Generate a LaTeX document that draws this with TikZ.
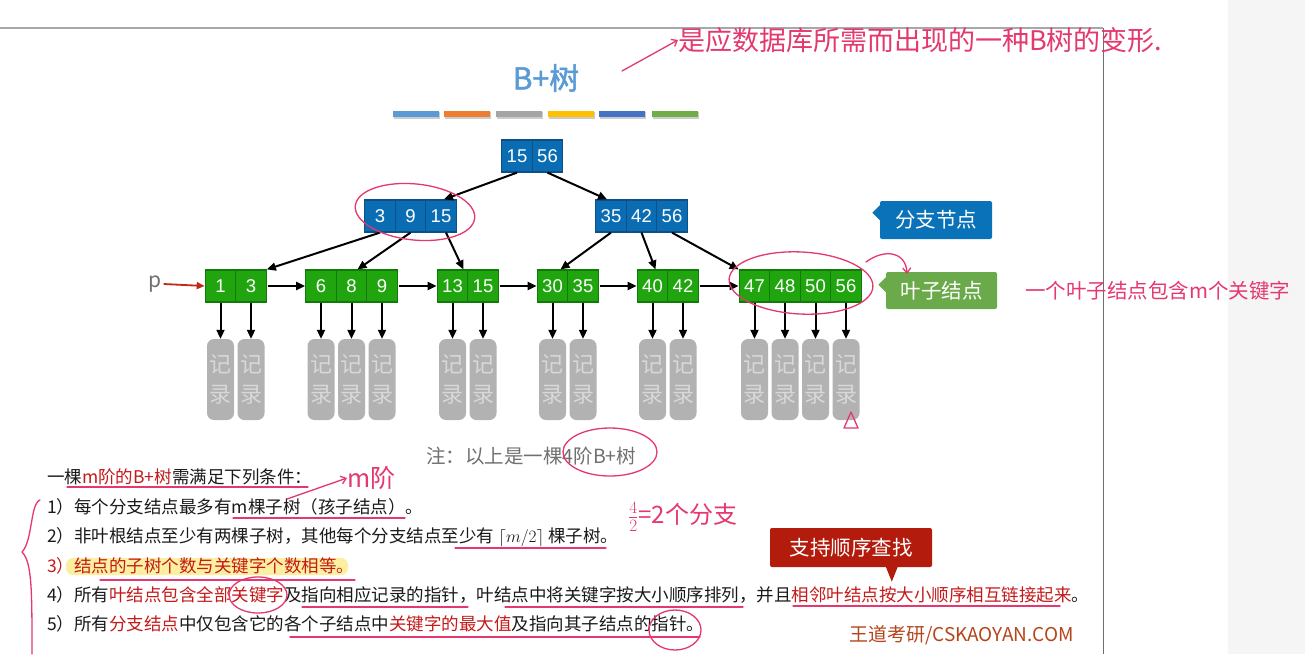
\documentclass[tikz,border=0pt]{standalone}
\usepackage{fontspec}
\setmainfont{Noto Sans CJK SC}
\newfontfamily\latf{Liberation Sans}
\newfontfamily\titlef{Noto Sans CJK SC}[FakeBold=1.6]
\usetikzlibrary{arrows.meta,shapes.geometric,calc}
\definecolor{bluec}{HTML}{0A6DB3}
\definecolor{bluedk}{HTML}{0D4F86}
\definecolor{greenc}{HTML}{20A50E}
\definecolor{greendk}{HTML}{117A0B}
\definecolor{recgray}{HTML}{B2B2B2}
\definecolor{rectext}{HTML}{D8D8D8}
\definecolor{cblue}{HTML}{0A72B8}
\definecolor{cgreen}{HTML}{6AAA4A}
\definecolor{cred}{HTML}{B31B0C}
\definecolor{titleblue}{HTML}{5B9BD5}
\definecolor{barA}{HTML}{5B9BD5}
\definecolor{barB}{HTML}{ED7D31}
\definecolor{barC}{HTML}{A5A5A5}
\definecolor{barD}{HTML}{FFC000}
\definecolor{barE}{HTML}{4472C4}
\definecolor{barF}{HTML}{70AD47}
\definecolor{txtred}{HTML}{C41A1A}
\definecolor{txtblack}{HTML}{1A1A1A}
\definecolor{notegray}{HTML}{707070}
\definecolor{wdbrown}{HTML}{B5461C}
\definecolor{hlyellow}{HTML}{FCEFA0}
\definecolor{pink}{HTML}{E4386E}
\definecolor{pred}{HTML}{C0281A}
\definecolor{panel}{HTML}{F5F5F5}
\newcommand\myfs[1]{\fontsize{#1}{#1}\selectfont}
\newcommand\rt[1]{\textcolor{txtred}{#1}}
\tikzset{
  bcell/.style={draw=bluedk, fill=bluec, line width=1.2pt, minimum width=30.5pt, minimum height=32pt, inner sep=0pt, text=white, font=\latf\myfs{18.5}},
  gcell/.style={draw=greendk, fill=greenc, line width=1.2pt, minimum width=30.5pt, minimum height=32pt, inner sep=0pt, text=white, font=\latf\myfs{18.5}},
  rec/.style={fill=recgray, rounded corners=7pt, minimum width=27pt, minimum height=81pt, inner sep=0pt, text=rectext, font=\fontsize{22}{30}\selectfont, align=center},
  arr/.style={-{Triangle[length=9pt,width=8pt]}, line width=2pt, black},
  txt/.style={anchor=west, inner sep=0pt, text=txtblack, font=\myfs{17.5}},
  callout/.style={rounded corners=2pt, text=white, font=\myfs{20.5}, inner sep=0pt},
  hw/.style={text=pink, inner sep=0pt},
  pen/.style={draw=pink, line width=1.3pt, line cap=round, line join=round},
  bar/.style={inner sep=0pt, minimum width=46pt, minimum height=6pt}
}
\begin{document}
\begin{tikzpicture}[x=1pt,y=-1pt]
\useasboundingbox (0,0) rectangle (1305,654);
\fill[white] (0,0) rectangle (1305,654);
% page frame
\fill[panel] (1228,0) rectangle (1305,654);
\draw[color={rgb,255:red,168;green,168;blue,168}, line width=1.5pt] (0,28) -- (1103,28);
\draw[color={rgb,255:red,110;green,110;blue,110}, line width=0.8pt] (1103,28) -- (1103,654);

% title
\node[text=titleblue, font=\titlef\myfs{30}, inner sep=0pt] (title) at (546,78) {B+树};
\foreach \c/\x in {barA/416,barB/466.5,barC/519,barD/570.5,barE/621.5,barF/674.5}{
  \fill[black!20] (\x-23+1,112) rectangle (\x+23+1,118.5);
  \node[bar, fill=\c] at (\x,114) {};
}

% root
\node[bcell] (r1) at (517,156) {15};
\node[bcell] (r2) at (547.5,156) {56};
% internal
\node[bcell] (L1) at (380,216) {3};
\node[bcell] (L2) at (410.5,216) {9};
\node[bcell] (L3) at (441,216) {15};
\node[bcell] (R1) at (611,216) {35};
\node[bcell] (R2) at (641.5,216) {42};
\node[bcell] (R3) at (672,216) {56};
% leaves
\node[gcell] (A1) at (220.5,286) {1};
\node[gcell] (A2) at (251,286) {3};
\node[gcell] (B1) at (321,286) {6};
\node[gcell] (B2) at (351.5,286) {8};
\node[gcell] (B3) at (382,286) {9};
\node[gcell] (C1) at (452.5,286) {13};
\node[gcell] (C2) at (483,286) {15};
\node[gcell] (D1) at (552.5,286) {30};
\node[gcell] (D2) at (583,286) {35};
\node[gcell] (E1) at (652.5,286) {40};
\node[gcell] (E2) at (683,286) {42};
\node[gcell] (F1) at (754.5,286) {47};
\node[gcell] (F2) at (785,286) {48};
\node[gcell] (F3) at (815.5,286) {50};
\node[gcell] (F4) at (846,286) {56};

% records
\foreach \c in {A1,A2,B1,B2,B3,C1,C2,D1,D2,E1,E2,F1,F2,F3,F4}{
  \node[rec] (\c r) at (\c.center |- 0,379.5) {记\\录};
  \draw[arr] (\c.south) -- (\c r.north);
}

% tree arrows
\draw[arr] (r1.south) -- ([xshift=3pt]L3.north);
\draw[arr] (r2.south) -- ([xshift=-4pt]R1.north);
\draw[arr] (L1.south) -- (A2.north east);
\draw[arr] (L2.south) -- ([xshift=6pt]B2.north);
\draw[arr] ([xshift=5pt]L3.south) -- ([xshift=-5pt]C1.north east);
\draw[arr] (R1.south) -- ([xshift=8pt]D1.north);
\draw[arr] (R2.south) -- ([xshift=3pt]E1.north);
\draw[arr] (R3.south) -- (F1.north west);
% leaf links
\draw[arr] ([xshift=1.5pt]A2.east) -- (B1.west);
\draw[arr] ([xshift=1.5pt]B3.east) -- (C1.west);
\draw[arr] ([xshift=1.5pt]C2.east) -- (D1.west);
\draw[arr] ([xshift=1.5pt]D2.east) -- (E1.west);
\draw[arr] ([xshift=1.5pt]E2.east) -- (F1.west);
% p pointer
\node[text=notegray, font=\myfs{21}, inner sep=0pt] (p) at (155,284) {p};
\draw[-{Triangle[length=8pt,width=7pt]}, line width=1.8pt, pred] (p.east) ++(2,0) coordinate (pstart) -- (A1.west);

% callouts
\node[callout, fill=cblue, minimum width=112pt, minimum height=38pt] (fz) at (936,220) {分支节点};
\fill[cblue] ($(fz.north west)+(0.5,4)$) -- ++(-8,8) -- ++(8,8) -- cycle;
\node[callout, fill=cgreen, minimum width=111pt, minimum height=37pt] (yz) at (941.5,290.5) {叶子结点};
\fill[cgreen] ($(yz.north west)+(0.5,5)$) -- ++(-8,8) -- ++(8,8) -- cycle;
\node[callout, fill=cred, minimum width=162pt, minimum height=39pt] (zc) at (851,547.5) {支持顺序查找};
\fill[cred] ($(zc.south west)+(116,-0.5)$) -- ++(6,15) -- ++(6,-15) -- cycle;

% note
\node[anchor=west, inner sep=0pt, text=notegray, font=\myfs{19.5}] (note) at (426,456) {注：以上是一棵4阶B+树};

% conditions
\node[txt] (t0) at (47,477) {一棵\rt{m阶的B+树}需满足下列条件：};
\node[txt] (t1) at (47,507) {1）每个分支结点最多有m棵子树（孩子结点）。};
\node[txt] (t2) at (47,537) {2）非叶根结点至少有两棵子树，其他每个分支结点至少有 $\lceil m/2\rceil$ 棵子树。};
\fill[hlyellow, rounded corners=7pt] (66,558) rectangle (348,575);
\node[txt, text=txtred] (t3) at (47,566) {3）结点的子树个数与关键字个数相等。};
\node[txt] (t4) at (47,595) {4）所有\rt{叶结点包含全部关键字}及指向相应记录的指针，叶结点中将关键字按大小顺序排列，并且\rt{相邻叶结点按大小顺序相互链接起来}。};
\node[txt] (t5) at (47,624) {5）所有\rt{分支结点}中仅包含它的各个子结点中\rt{关键字的最大值}及指向其子结点的指针。};

% watermark
\node[anchor=west, inner sep=0pt, text=wdbrown, font=\myfs{19}] (wm) at (849,635) {王道考研/CSKAOYAN.COM};

% ---- handwritten annotations ----
\node[hw, anchor=west, font=\myfs{27}] (hwtop) at (678,40) {是应数据库所需而出现的一种B树的变形.};
\draw[pen, -{Straight Barb[length=5pt,width=8pt]}] (622,71) -- (hwtop.west);
\node[hw, anchor=west, font=\myfs{20.5}] (hwright) at (1025,291) {一个叶子结点包含m个关键字};
\node[hw, anchor=west, font=\myfs{25}] (hwm) at (347,478) {m阶};
\draw[pen, -{Straight Barb[length=5pt,width=8pt]}] (287,499) -- (hwm.west);
\node[hw, anchor=west, font=\myfs{24}] (hwfr) at (628,517) {$\frac{4}{2}$=2个分支};
% circles
\draw[pen, rotate around={-6:(415,212)}] (415,212) ellipse [x radius=60, y radius=28];
\draw[pen, rotate around={-3:(801,283)}] (801,283) ellipse [x radius=72, y radius=31];
\draw[pen] (610,452) ellipse [x radius=47, y radius=24];
\draw[pen] (258,595) ellipse [x radius=29, y radius=18];
\draw[pen] (675,630) ellipse [x radius=26, y radius=20];
\draw[pen, -{Straight Barb[length=5pt,width=8pt]}] (866,262) .. controls (885,248) and (906,252) .. (907,274);
\draw[pen] (844,428) -- (851,412) -- (858,428) -- cycle;
% underlines
\draw[pen] (67,487) -- (308,487);
\draw[pen] (233,518) -- (405,518);
\draw[pen] (455,548) -- (606,548);
\draw[pen] (100,580) -- (355,580);
\draw[pen] (302,607) -- (468,607);
\draw[pen] (505,607) -- (743,607);
\draw[pen] (793,606) -- (1060,606);
\draw[pen] (290,637) -- (700,637);
% brace
\draw[pen] (40,500) .. controls (30,504) and (33,540) .. (22,552) .. controls (32,562) and (32,590) .. (32,654);
\end{tikzpicture}
\end{document}
